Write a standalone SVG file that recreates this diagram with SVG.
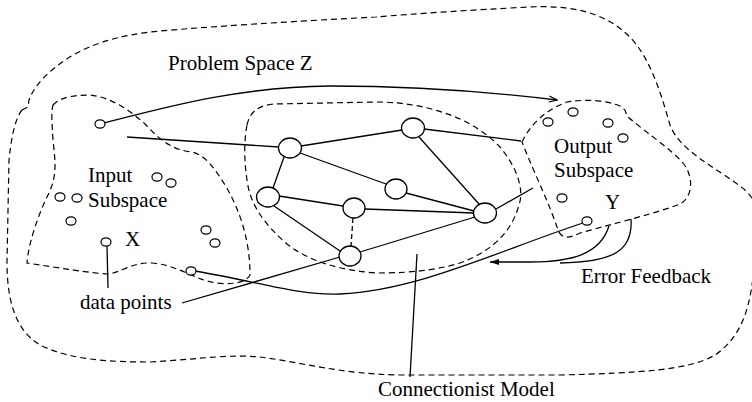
<svg xmlns="http://www.w3.org/2000/svg" width="752" height="402" viewBox="0 0 752 402">
<style>
.dash{fill:none;stroke:#000;stroke-width:1.2;stroke-dasharray:6,4}
.ln{fill:none;stroke:#000;stroke-width:1.3}
.nd{fill:#fff;stroke:#000;stroke-width:1.3}
.pt{fill:#fff;stroke:#000;stroke-width:1.2}
.t{font-family:"Liberation Serif","Times New Roman",serif;font-size:21px;fill:#000}
</style>
<defs>
<marker id="open" markerWidth="10" markerHeight="8" refX="9" refY="4" orient="auto" markerUnits="userSpaceOnUse">
<path d="M1,1 L9,4 L1,7" fill="none" stroke="#000" stroke-width="1.2"/>
</marker>
<marker id="fill" markerWidth="10" markerHeight="8" refX="9" refY="4" orient="auto" markerUnits="userSpaceOnUse">
<path d="M0,1 L9,4 L0,7 Z" fill="#000"/>
</marker>
</defs>
<rect width="752" height="402" fill="#fff"/>

<g id="problem-space">
<path class="dash" d="M22,110 C17,116 12,130 9,160 L7,262 C7,300 15,330 40,345 C70,360 110,362 150,362 C200,359 230,354 260,357 C300,362 340,374 400,375 L560,375 C640,373 690,370 715,355 C745,335 750,300 753,278 C762,240 768,212 745,190 C718,168 680,152 670,125 C660,90 648,50 622,30 C600,12 570,5 530,7 C470,10 410,14 376,17 C300,21 200,27 150,32 C100,38 72,53 52,70 C38,82 32,92 29,100 L28,107 Z"/>
<text class="t" x="168" y="70">Problem Space Z</text>
</g>

<g id="input-subspace">
<path class="dash" d="M53,105 C60,97 75,95 90,95 C110,97 130,110 145,124 C160,140 172,150 192,152 C205,155 215,168 228,190 C240,212 250,240 250,275 C246,284 225,286 207,281 C190,276 175,265 152,263 C132,262 120,273 108,274 C90,273 60,268 27,263 C28,245 38,215 48,195 C58,175 55,160 53,140 C52,125 51,112 53,105 Z"/>
<text class="t" x="88" y="182">Input</text>
<text class="t" x="88" y="207">Subspace</text>
<text class="t" x="125" y="246">X</text>
</g>

<g id="connectionist-model">
<path class="dash" d="M247,125 C250,112 258,105 275,104 L376,102 C420,102 470,115 500,147 C515,165 525,188 519,205 C512,230 495,250 460,263 C430,272 400,273 376,273 C340,270 310,262 287,244 C265,225 250,205 247,180 C244,160 244,140 247,125 Z"/>
<text class="t" x="378" y="396">Connectionist Model</text>
</g>

<g id="output-subspace">
<path class="dash" d="M522,142 C530,125 545,110 567,102 C585,99 605,100 620,106 L625,110 L627,116 C645,132 670,148 683,163 C695,178 692,198 680,204 C660,212 620,222 580,233 C570,238 562,240 558,230 C550,205 535,175 522,142 Z"/>
<text class="t" x="554" y="153">Output</text>
<text class="t" x="554" y="177">Subspace</text>
<text class="t" x="605" y="209">Y</text>
</g>

<g id="labels">
<text class="t" x="80" y="309">data points</text>
<text class="t" x="581" y="283">Error Feedback</text>
</g>

<g id="connectors">
<path class="ln" d="M104,123 C170,106 240,87 330,86 C420,86 500,93 557,100" marker-end="url(#open)"/>
<line class="ln" x1="127" y1="137" x2="279" y2="147"/>
<line class="ln" x1="301" y1="146" x2="402" y2="130"/>
<line class="ln" x1="284" y1="157" x2="273" y2="188"/>
<line class="ln" x1="300" y1="153" x2="386" y2="184"/>
<line class="ln" x1="419" y1="137" x2="479" y2="204"/>
<line class="ln" x1="424" y1="129" x2="521" y2="141"/>
<line class="ln" x1="279" y1="196" x2="343" y2="206"/>
<line class="ln" x1="274" y1="206" x2="343" y2="253"/>
<line class="ln" x1="406" y1="193" x2="474" y2="211"/>
<line class="ln" x1="365" y1="209" x2="474" y2="213"/>
<line class="ln" x1="353" y1="218" x2="351" y2="246" stroke-dasharray="5,3"/>
<line class="ln" x1="360" y1="252" x2="475" y2="217"/>
<line class="ln" x1="496" y1="209" x2="533" y2="188"/>
<line class="ln" x1="182" y1="303" x2="340" y2="257"/>
<line class="ln" x1="107" y1="246" x2="108" y2="288"/>
<path class="ln" d="M195,271 C260,282 300,296 340,294 C420,290 500,250 583,223"/>
<line class="ln" x1="417" y1="254" x2="410" y2="377"/>
<path class="ln" d="M609,226 C600,255 570,262 530,262 L490,262" marker-end="url(#fill)"/>
<path class="ln" d="M631,219 C633,250 615,262 560,263"/>
</g>

<g id="nodes">
<ellipse id="n1" class="nd" cx="290" cy="148" rx="11.5" ry="10"/>
<ellipse id="n2" class="nd" cx="413" cy="128" rx="11.5" ry="10"/>
<ellipse id="n3" class="nd" cx="268" cy="197" rx="11.5" ry="10"/>
<ellipse id="n4" class="nd" cx="396" cy="189" rx="11" ry="10"/>
<ellipse id="n5" class="nd" cx="354" cy="208" rx="11" ry="10"/>
<ellipse id="n6" class="nd" cx="485" cy="213" rx="11.5" ry="10"/>
<ellipse id="n7" class="nd" cx="350" cy="256" rx="11" ry="10"/>
</g>

<g id="data-points">
<ellipse class="pt" cx="100" cy="124" rx="5" ry="4.2"/>
<ellipse class="pt" cx="157" cy="177" rx="5" ry="4.2"/>
<ellipse class="pt" cx="171" cy="183" rx="5" ry="4.2"/>
<ellipse class="pt" cx="60" cy="197" rx="5" ry="4.2"/>
<ellipse class="pt" cx="77" cy="198" rx="5" ry="4.2"/>
<ellipse class="pt" cx="71" cy="221" rx="5" ry="4.2"/>
<ellipse class="pt" cx="106" cy="242" rx="5" ry="4.2"/>
<ellipse class="pt" cx="206" cy="230" rx="5" ry="4.2"/>
<ellipse class="pt" cx="215" cy="243" rx="5" ry="4.2"/>
<ellipse class="pt" cx="191" cy="271" rx="5" ry="4.2"/>
<ellipse class="pt" cx="573" cy="112" rx="5" ry="4.2"/>
<ellipse class="pt" cx="548" cy="122" rx="5" ry="4.2"/>
<ellipse class="pt" cx="608" cy="123" rx="5" ry="4.2"/>
<ellipse class="pt" cx="623" cy="138" rx="5" ry="4.2"/>
<ellipse class="pt" cx="562" cy="198" rx="5" ry="4.2"/>
<ellipse class="pt" cx="587" cy="221" rx="5" ry="4.2"/>
</g>
</svg>
